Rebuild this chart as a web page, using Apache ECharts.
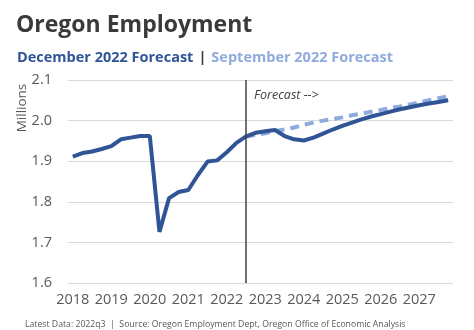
<!DOCTYPE html>
<html><head><meta charset="utf-8">
<script src="https://cdn.jsdelivr.net/npm/echarts@6/dist/echarts.min.js"></script>
<style>html,body{margin:0;padding:0;background:#fff}#c{width:474px;height:330px}</style>
</head><body><div id="c"></div>
<script>
const years = [2018,2019,2020,2021,2022,2023,2024,2025,2026,2027];
const quarters = ['q1','q2','q3','q4'];
const decForecast = [1.911,1.920,1.924,1.930,1.937,1.954,1.958,1.962,1.962,1.726,
  1.809,1.824,1.829,1.866,1.899,1.902,1.922,1.945,1.961,1.970,
  1.974,1.977,1.962,1.954,1.951,1.958,1.968,1.978,1.987,1.995,
  2.003,2.010,2.016,2.022,2.028,2.033,2.038,2.042,2.046,2.050];
const sepForecast = [null,null,null,null,null,null,null,null,null,null,
  null,null,null,null,null,null,null,null,1.961,1.965,
  1.969,1.974,1.978,1.983,1.990,1.995,2.000,2.004,2.008,2.013,
  2.017,2.022,2.026,2.031,2.035,2.040,2.045,2.050,2.055,2.060];
const yTicks = [1.6,1.7,1.8,1.9,2.0,2.1];
const forecastStart = 17.5;

const categories = [];
years.forEach(y => quarters.forEach(q => categories.push(y + q)));

const font = '"Open Sans", "Noto Sans", sans-serif';
const chart = echarts.init(document.getElementById('c'), null, {renderer:'canvas'});
chart.setOption({
  animation:false,
  title:[{
    text:'Oregon Employment', left:11, top:9,
    textStyle:{fontFamily:font, fontSize:23, fontWeight:'bold', color:'#3a3a3a'}
  },{
    text:'{a|December 2022 Forecast} {b||} {c|September 2022 Forecast}', left:12, top:44,
    textStyle:{rich:{
      a:{fontFamily:font, fontSize:14.5, fontWeight:'bold', color:'#2F5597'},
      b:{fontFamily:font, fontSize:14.5, fontWeight:'bold', color:'#3a3a3a'},
      c:{fontFamily:font, fontSize:14.5, fontWeight:'bold', color:'#8FAADC'}
    }}
  },{
    text:'Latest Data: 2022q3  |  Source: Oregon Employment Dept, Oregon Office of Economic Analysis',
    left:20, top:315,
    textStyle:{fontFamily:font, fontSize:8.7, fontWeight:'normal', color:'#595959'}
  },{
    text:'Forecast -->', left:249, top:84,
    textStyle:{fontFamily:font, fontSize:12.5, fontStyle:'italic', fontWeight:'normal', color:'#404040'}
  }],
  graphic:[{
    type:'text', x:22, y:108, rotation:Math.PI/2,
    style:{text:'Millions', fontFamily:font, fontSize:13.5, fill:'#595959', align:'center', verticalAlign:'middle'}
  }],
  grid:{left:68, right:21, top:80, bottom:47, containLabel:false},
  xAxis:{
    type:'category', data:categories, boundaryGap:true,
    axisLine:{show:false}, axisTick:{show:false},
    axisLabel:{interval:3, formatter:v => v.slice(0,4), fontFamily:font, fontSize:14.5, color:'#595959', margin:9},
    splitLine:{show:false}
  },
  yAxis:{
    type:'value', min:1.6, max:2.1, interval:0.1,
    axisLine:{show:false}, axisTick:{show:false},
    axisLabel:{formatter:v => v.toFixed(1), fontFamily:font, fontSize:14.5, color:'#595959', margin:16},
    splitLine:{lineStyle:{color:'#d9d9d9', width:1}}
  },
  series:[{
    name:'September 2022 Forecast', type:'line', data:sepForecast, symbol:'none',
    lineStyle:{color:'#8FAADC', width:4, type:[9,6]}, z:2
  },{
    name:'December 2022 Forecast', type:'line', data:decForecast, symbol:'none',
    lineStyle:{color:'#2F5597', width:4}, z:3,
    markLine:{
      silent:true, symbol:'none',
      lineStyle:{color:'#404040', width:1.5, type:'solid'},
      label:{show:false},
      data:[{xAxis:forecastStart}]
    }
  }]
});
</script></body></html>
